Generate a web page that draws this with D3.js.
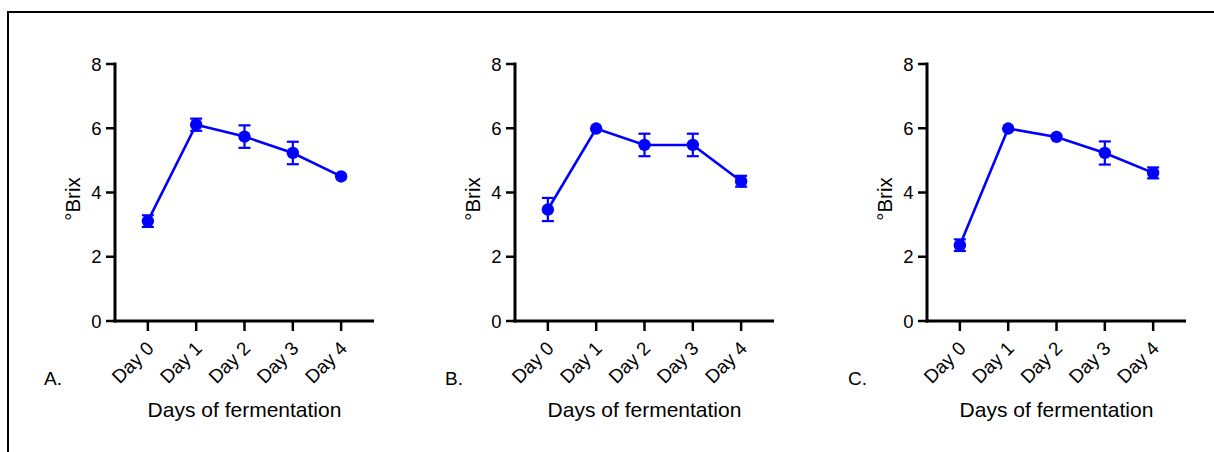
<!DOCTYPE html>
<html>
<head>
<meta charset="utf-8">
<script src="https://cdn.jsdelivr.net/npm/d3@7"></script>
<style>
  body { margin: 0; background: #fff; }
  svg { display: block; font-family: "Liberation Sans", Arial, sans-serif; }
</style>
</head>
<body>
<svg id="chart" width="1214" height="452"></svg>
<script>
// Data
const days = ["Day 0", "Day 1", "Day 2", "Day 3", "Day 4"];
const yTicks = [0, 2, 4, 6, 8];
const panelLabels = ["A.", "B.", "C."];

const brixA = [3.11, 6.11, 5.74, 5.23, 4.5];
const errA = [0.18, 0.19, 0.35, 0.35, 0];
const brixB = [3.47, 5.99, 5.48, 5.48, 4.35];
const errB = [0.36, 0, 0.35, 0.35, 0.17];
const brixC = [2.36, 5.99, 5.73, 5.23, 4.61];
const errC = [0.18, 0, 0, 0.36, 0.17];

const series = [
  { label: panelLabels[0], brix: brixA, err: errA },
  { label: panelLabels[1], brix: brixB, err: errB },
  { label: panelLabels[2], brix: brixC, err: errC },
];

// Layout
const svg = d3.select("#chart");
const blue = "#0000ff";
const axisLeft = [115, 515, 927];
const labelX = [44, 445, 848];
const plotTop = 64, plotBottom = 321, plotW = 259;

// frame around the figure
svg.append("path")
  .attr("d", "M8,460 V12 H1220")
  .attr("fill", "none")
  .attr("stroke", "#000")
  .attr("stroke-width", 2);

const y = d3.scaleLinear().domain([0, 8]).range([plotBottom, plotTop]);

series.forEach((s, i) => {
  const x0 = axisLeft[i];
  const x = d3.scaleLinear().domain([-0.68, 4.68]).range([x0, x0 + plotW]);
  const g = svg.append("g");

  // y axis
  g.append("line")
    .attr("x1", x0).attr("x2", x0)
    .attr("y1", y(8) - 1.5).attr("y2", y(0) + 1.5)
    .attr("stroke", "#000").attr("stroke-width", 3);
  g.selectAll(".yt")
    .data(yTicks)
    .join("line")
    .attr("x1", x0 - 9).attr("x2", x0)
    .attr("y1", (d) => y(d)).attr("y2", (d) => y(d))
    .attr("stroke", "#000").attr("stroke-width", 2.5);
  g.selectAll(".yl")
    .data(yTicks)
    .join("text")
    .attr("x", x0 - 13.5)
    .attr("y", (d) => y(d))
    .attr("dy", "0.36em")
    .attr("text-anchor", "end")
    .attr("font-size", 18.5)
    .text((d) => d);

  // x axis
  g.append("line")
    .attr("x1", x0 - 1.5).attr("x2", x0 + plotW)
    .attr("y1", plotBottom).attr("y2", plotBottom)
    .attr("stroke", "#000").attr("stroke-width", 3);
  g.selectAll(".xt")
    .data(days)
    .join("line")
    .attr("x1", (d, j) => x(j)).attr("x2", (d, j) => x(j))
    .attr("y1", plotBottom).attr("y2", plotBottom + 10)
    .attr("stroke", "#000").attr("stroke-width", 2.5);
  g.selectAll(".xl")
    .data(days)
    .join("text")
    .attr("transform", (d, j) => `translate(${x(j) + 7},${plotBottom + 28.5}) rotate(-45)`)
    .attr("text-anchor", "end")
    .attr("font-size", 19)
    .text((d) => d);

  // axis titles
  g.append("text")
    .attr("transform", `translate(${x0 - 35},199) rotate(-90)`)
    .attr("text-anchor", "middle")
    .attr("font-size", 20.5)
    .text("°Brix");
  g.append("text")
    .attr("x", x(2))
    .attr("y", 417)
    .attr("text-anchor", "middle")
    .attr("font-size", 21)
    .text("Days of fermentation");

  // panel letter
  g.append("text")
    .attr("x", labelX[i])
    .attr("y", 385)
    .attr("font-size", 19)
    .text(s.label);

  const pts = s.brix.map((v, j) => ({ j, v, e: s.err[j] }));

  // line
  g.append("path")
    .datum(pts)
    .attr("fill", "none")
    .attr("stroke", blue)
    .attr("stroke-width", 2.6)
    .attr("d", d3.line().x((d) => x(d.j)).y((d) => y(d.v)));

  // error bars
  const eb = g.selectAll(".eb")
    .data(pts.filter((d) => d.e > 0))
    .join("g")
    .attr("stroke", blue)
    .attr("stroke-width", 2.2);
  eb.append("line")
    .attr("x1", (d) => x(d.j)).attr("x2", (d) => x(d.j))
    .attr("y1", (d) => y(d.v - d.e)).attr("y2", (d) => y(d.v + d.e));
  [-1, 1].forEach((sgn) => {
    eb.append("line")
      .attr("x1", (d) => x(d.j) - 6).attr("x2", (d) => x(d.j) + 6)
      .attr("y1", (d) => y(d.v + sgn * d.e)).attr("y2", (d) => y(d.v + sgn * d.e));
  });

  // markers
  g.selectAll(".pt")
    .data(pts)
    .join("circle")
    .attr("cx", (d) => x(d.j))
    .attr("cy", (d) => y(d.v))
    .attr("r", 6.2)
    .attr("fill", blue);
});
</script>
</body>
</html>
